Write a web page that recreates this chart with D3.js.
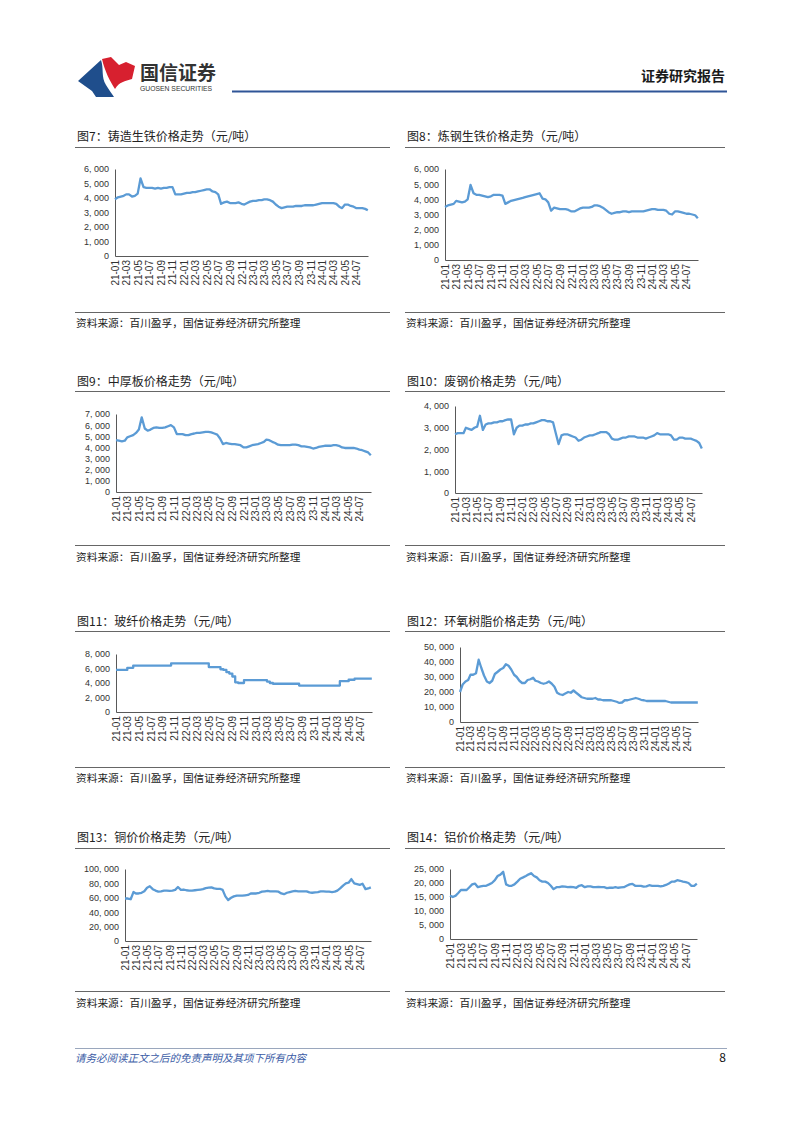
<!DOCTYPE html>
<html><head><meta charset="utf-8">
<script src="https://cdn.jsdelivr.net/npm/d3@7"></script>
<style>
body{margin:0;background:#fff;}
svg{display:block;font-family:"Noto Sans CJK SC","Noto Sans",sans-serif;}
</style></head><body>
<svg id="page" width="802" height="1133"></svg>
<script>
// ---------- data ----------
const tickLabels = ["21-01","21-03","21-05","21-07","21-09","21-11","22-01","22-03","22-05","22-07","22-09","22-11",
  "23-01","23-03","23-05","23-07","23-09","23-11","24-01","24-03","24-05","24-07"];

// semi-monthly observation dates (1st & 16th), 2021-01 .. 2024-08, plus last obs
const dates = [];
for (let y = 2021; y <= 2024; y++) for (let m = 0; m < 12; m++) {
  if (y === 2024 && m > 7) break;
  dates.push(new Date(y, m, 1)); dates.push(new Date(y, m, 16));
}
dates.push(new Date(2024, 7, 30));

const castIron = [3900,4050, 4100,4150, 4250,4250, 4100,4150, 4300,5350, 4750,4700, 4700,4700, 4650,4700, 4650,4700, 4700,4750, 4750,4250, 4250,4250,
 4300,4350, 4350,4400, 4400,4450, 4500,4550, 4600,4600, 4450,4400, 4250,3600, 3700,3750, 3650,3650, 3650,3700, 3600,3550, 3650,3750,
 3800,3800, 3850,3850, 3900,3900, 3850,3750, 3550,3400, 3300,3350, 3400,3400, 3400,3450, 3450,3450, 3500,3500, 3500,3500, 3550,3600,
 3650,3650, 3650,3650, 3650,3600, 3400,3300, 3550,3550, 3450,3400, 3300,3300, 3300,3250, 3150];

const steelIron = [3500,3600, 3650,3700, 3900,3850, 3800,3850, 4000,4950, 4400,4300, 4300,4250, 4200,4150, 4200,4300, 4300,4300, 4250,3700, 3800,3900,
 3950,4000, 4050,4100, 4150,4200, 4250,4300, 4350,4400, 4050,4000, 3800,3250, 3450,3400, 3350,3350, 3350,3300, 3200,3200, 3300,3400,
 3450,3450, 3450,3500, 3600,3600, 3550,3450, 3300,3150, 3050,3100, 3150,3150, 3200,3200, 3150,3200, 3200,3200, 3200,3200, 3250,3300,
 3350,3350, 3300,3300, 3300,3250, 3050,3000, 3200,3200, 3150,3100, 3050,3050, 3000,2950, 2750];

const plate = [4650,4600, 4550,4600, 4900,5000, 5100,5300, 5600,6700, 5700,5500, 5600,5750, 5800,5750, 5750,5800, 5900,6000, 5800,5200, 5200,5200,
 5100,5100, 5200,5250, 5300,5300, 5350,5400, 5400,5350, 5250,5150, 4800,4300, 4400,4350, 4300,4300, 4250,4200, 4000,4000, 4100,4200,
 4250,4300, 4400,4500, 4700,4650, 4500,4400, 4250,4200, 4200,4200, 4200,4250, 4250,4200, 4100,4100, 4050,4000, 3900,3950, 4050,4100,
 4150,4150, 4150,4200, 4200,4150, 4000,3950, 3950,3950, 3950,3900, 3800,3750, 3650,3550, 3300];

const scrap = [2700,2750, 2750,2750, 3000,2950, 2900,3000, 3050,3550, 2900,3150, 3200,3200, 3250,3250, 3300,3300, 3350,3380, 3380,2700, 3000,3100,
 3100,3150, 3150,3200, 3200,3250, 3300,3350, 3350,3300, 3300,3250, 2750,2250, 2650,2700, 2700,2650, 2600,2550, 2400,2450, 2550,2600,
 2650,2650, 2700,2750, 2800,2800, 2800,2700, 2500,2450, 2450,2500, 2550,2550, 2600,2600, 2600,2550, 2550,2550, 2500,2550, 2600,2650,
 2750,2700, 2700,2700, 2700,2650, 2450,2450, 2550,2550, 2500,2500, 2500,2450, 2400,2300, 2050];

const glassFiber = [5800,5800, 5800,5800, 6100,6100, 6400,6400, 6400,6400, 6400,6400, 6400,6400, 6400,6400, 6400,6400, 6400,6700, 6700,6700, 6700,6700,
 6700,6700, 6700,6700, 6700,6700, 6700,6700, 6200,6200, 6200,6200, 5900,5800, 5500,5300, 4900,4100, 4000,4000, 4400,4400, 4400,4400,
 4400,4400, 4400,4400, 4200,4000, 3900,3900, 3900,3900, 3900,3900, 3900,3900, 3900,3650, 3650,3650, 3650,3650, 3650,3650, 3650,3650,
 3650,3650, 3650,3650, 3650,4250, 4250,4250, 4450,4450, 4600,4600, 4600,4600, 4600,4600, 4600];

const epoxy = [20000,25000, 27000,28000, 31500,31500, 32500,41500, 36000,31000, 27000,26000, 27500,32000, 33500,35000, 36000,38500, 37500,35000, 31500,30000, 27500,26000,
 26000,28000, 28500,29500, 27500,27000, 26000,25500, 26000,27000, 25500,23500, 19500,18500, 18000,19000, 20000,19500, 21000,19500, 18000,16500, 16000,15500,
 15500,15500, 16000,15000, 15000,14500, 14500,14500, 14500,14000, 13500,12700, 13000,14500, 14500,15000, 15500,16000, 15500,14800, 14500,14000, 14000,14000,
 14000,14000, 14000,14000, 14000,13500, 13000,13000, 13000,13000, 13000,13000, 13000,13000, 13000,13000, 13000];

const copper = [59000,59000, 58000,68000, 66000,66000, 67000,69000, 74000,76000, 72000,70000, 68500,69000, 70000,70000, 69500,70000, 71000,75000, 71000,71500, 70500,70000,
 70000,70500, 71000,71500, 72000,73500, 74000,74500, 73000,72500, 72500,71000, 62000,57000, 60000,62000, 63000,63000, 63000,63500, 64000,66000, 66000,66000,
 67000,68500, 69000,69500, 69000,69000, 69000,68500, 66000,65000, 67000,68000, 69000,69500, 69000,69000, 69000,69000, 67500,67000, 67500,68000, 69000,69000,
 68500,68500, 68000,68500, 70000,73000, 77000,80000, 81000,86000, 80000,79000, 78000,79500, 72000,73000, 74500];

const aluminium = [15500,15000, 15500,16500, 17500,17500, 17500,18500, 19500,19800, 18500,18800, 19000,19000, 19500,20000, 21000,22500, 23000,24000, 19500,19000, 19000,19500,
 20500,21500, 22000,22500, 23000,23500, 22500,22000, 21000,20500, 20500,20000, 19000,17800, 18500,18500, 18800,18700, 18500,18600, 18500,18300, 19000,19200,
 18500,18800, 18800,18500, 18500,18600, 18500,18500, 18200,18300, 18300,18500, 18300,18400, 18500,19000, 19500,19700, 19000,19000, 19000,18700, 18800,19200,
 19000,19000, 19000,18800, 19000,19300, 19800,20500, 20500,21000, 20800,20500, 20300,20000, 19000,19000, 19800];

const titles = ["图7：铸造生铁价格走势（元/吨）","图8：炼钢生铁价格走势（元/吨）","图9：中厚板价格走势（元/吨）","图10：废钢价格走势（元/吨）",
  "图11：玻纤价格走势（元/吨）","图12：环氧树脂价格走势（元/吨）","图13：铜价价格走势（元/吨）","图14：铝价价格走势（元/吨）"];
const seriesList = [castIron, steelIron, plate, scrap, glassFiber, epoxy, copper, aluminium];
const yMaxes = [6000, 6000, 7000, 4000, 8000, 50000, 100000, 25000];
const ySteps = [1000, 1000, 1000, 1000, 2000, 10000, 20000, 5000];
const sourceText = "资料来源：百川盈孚，国信证券经济研究所整理";

// ---------- layout ----------
const panels = [
  {left:75,  w:315, titleY:141, ruleY:147, x0:115, x1:368, yTop:169, y0:256, srcRule:312, srcY:327},
  {left:405, w:320, titleY:141, ruleY:147, x0:445, x1:698, yTop:169, y0:260, srcRule:312, srcY:327},
  {left:75,  w:315, titleY:386, ruleY:391, x0:116, x1:371, yTop:414, y0:492, srcRule:545, srcY:561},
  {left:405, w:320, titleY:386, ruleY:391, x0:455, x1:702, yTop:406, y0:493, srcRule:545, srcY:561},
  {left:75,  w:315, titleY:626, ruleY:631, x0:116, x1:372, yTop:654, y0:712, srcRule:767, srcY:782},
  {left:405, w:320, titleY:626, ruleY:631, x0:460, x1:698, yTop:647, y0:722, srcRule:767, srcY:782},
  {left:75,  w:315, titleY:842, ruleY:848, x0:125, x1:371, yTop:869, y0:941, srcRule:991, srcY:1007},
  {left:405, w:320, titleY:842, ruleY:848, x0:450, x1:697, yTop:869, y0:939, srcRule:991, srcY:1007}
];

const svg = d3.select("#page");
svg.append("rect").attr("width",802).attr("height",1133).attr("fill","#fff");

// ---------- header ----------
const hdr = svg.append("g");
hdr.append("path").attr("fill","#1f4e8c")
  .attr("d","M78,81 L101,60 C104,69 101,77 106,85 C109,90 112,94 114,97 L96,97 L92,91 Z");
hdr.append("path").attr("fill","#d7202f")
  .attr("d","M102,59 L111,57 L119,65 L126,62 L135,66 L132,79 C125,81 119,82 115,89 C110,81 105,72 102,59 Z");
hdr.append("text").attr("x",140).attr("y",80).attr("font-size",19).attr("font-weight",700)
  .attr("fill","#333").text("国信证券");
hdr.append("text").attr("x",140).attr("y",91).attr("font-size",6.8).attr("fill","#333")
  .attr("font-family","Liberation Sans, Arial, sans-serif").text("GUOSEN SECURITIES");
hdr.append("text").attr("x",725).attr("y",81).attr("font-size",14).attr("font-weight",700)
  .attr("text-anchor","end").attr("fill","#1a1a1a").text("证券研究报告");
hdr.append("line").attr("x1",232).attr("x2",727).attr("y1",91.5).attr("y2",91.5)
  .attr("stroke","#2f5597").attr("stroke-width",2);

// ---------- charts ----------
const xDomain = [new Date(2021,0,1), new Date(2024,7,31)];
const parseTick = d3.timeParse("%y-%m");
const tickDates = tickLabels.map(parseTick);
const fmt = v => d3.format(",")(v).replace(/,/g, ", ");
const tickFont = '"Liberation Sans", Arial, sans-serif';

panels.forEach((p, i) => {
  const g = svg.append("g");
  g.append("text").attr("x", p.left + 2).attr("y", p.titleY).attr("font-size", 12)
    .attr("fill", "#222").text(titles[i]);
  g.append("line").attr("x1", p.left).attr("x2", p.left + p.w).attr("y1", p.ruleY + .5).attr("y2", p.ruleY + .5)
    .attr("stroke", "#666").attr("stroke-width", 1);

  const x = d3.scaleTime().domain(xDomain).range([p.x0, p.x1]);
  const y = d3.scaleLinear().domain([0, yMaxes[i]]).range([p.y0, p.yTop]);

  const ya = g.append("g").attr("transform", `translate(${p.x0},0)`)
    .call(d3.axisLeft(y).tickValues(d3.range(0, yMaxes[i] + 1, ySteps[i])).tickSize(0).tickSizeOuter(0).tickPadding(6).tickFormat(fmt));
  ya.select(".domain").attr("stroke", "#595959");
  ya.selectAll("text").attr("font-size", 9).attr("fill", "#333").attr("font-family", tickFont);

  const xa = g.append("g").attr("transform", `translate(0,${p.y0})`)
    .call(d3.axisBottom(x).tickValues(tickDates).tickSize(0).tickSizeOuter(0).tickFormat((d, k) => tickLabels[k]));
  xa.select(".domain").attr("stroke", "#595959");
  xa.selectAll("text").attr("font-size", 10).attr("fill", "#333").attr("font-family", tickFont)
    .attr("transform", "rotate(-90)").attr("x", -4).attr("y", 0).attr("dy", "0.35em")
    .style("text-anchor", "end");

  const data = seriesList[i].map((v, k) => ({date: dates[k], v}));
  const line = d3.line().x(d => x(d.date)).y(d => y(d.v))
    .curve(i === 4 ? d3.curveStepAfter : d3.curveLinear);
  g.append("path").datum(data).attr("d", line).attr("fill", "none")
    .attr("stroke", "#5b9bd5").attr("stroke-width", 2.3).attr("stroke-linejoin", "round");

  g.append("line").attr("x1", p.left).attr("x2", p.left + p.w).attr("y1", p.srcRule + .5).attr("y2", p.srcRule + .5)
    .attr("stroke", "#666").attr("stroke-width", 1);
  g.append("text").attr("x", p.left + 1).attr("y", p.srcY).attr("font-size", 10.7)
    .attr("fill", "#222").text(sourceText);
});

// ---------- footer ----------
svg.append("line").attr("x1",75).attr("x2",727).attr("y1",1048.5).attr("y2",1048.5)
  .attr("stroke","#9aa7bd").attr("stroke-width",1);
svg.append("text").attr("x",75).attr("y",1062).attr("font-size",10.5).attr("font-style","italic")
  .attr("fill","#3b5ca6").text("请务必阅读正文之后的免责声明及其项下所有内容");
svg.append("text").attr("x",726).attr("y",1062).attr("font-size",12).attr("text-anchor","end")
  .attr("fill","#111").text("8");
</script>
</body></html>
